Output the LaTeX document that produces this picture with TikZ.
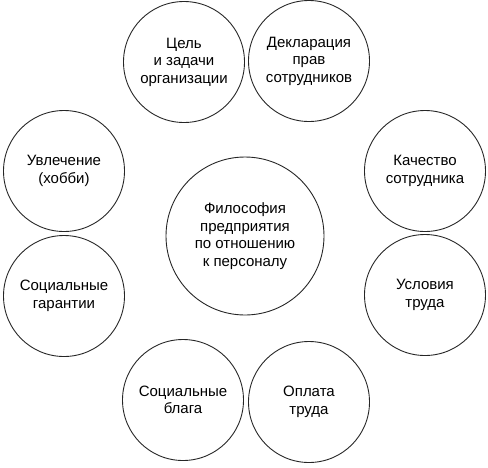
\documentclass[tikz,border=0pt]{standalone}
\usepackage{fontspec}
\setmainfont{Liberation Sans}
\begin{document}
\begin{tikzpicture}[x=1pt,y=-1pt,
  bub/.style={circle,draw=black!85,line width=0.9pt,minimum size=121pt,inner sep=0pt,align=center,
    font=\fontsize{15}{17.5}\selectfont},
  core/.style={bub,minimum size=158pt}]
\useasboundingbox (0,0) rectangle (488,467);
\node[core] (c) at (245,236) {Философия\\предприятия\\по отношению\\к персоналу};
\node[bub] (n1) at (184,62) {Цель\\и задачи\\организации};
\node[bub] (n2) at (309,61) {Декларация\\прав\\сотрудников};
\node[bub] (n3) at (425,171) {Качество\\сотрудника};
\node[bub] (n4) at (425,295) {Условия\\труда};
\node[bub] (n5) at (309,402) {Оплата\\труда};
\node[bub] (n6) at (183,400) {Социальные\\блага};
\node[bub] (n7) at (64,296) {Социальные\\гарантии};
\node[bub] (n8) at (64,171) {Увлечение\\(хобби)};
\end{tikzpicture}
\end{document}
